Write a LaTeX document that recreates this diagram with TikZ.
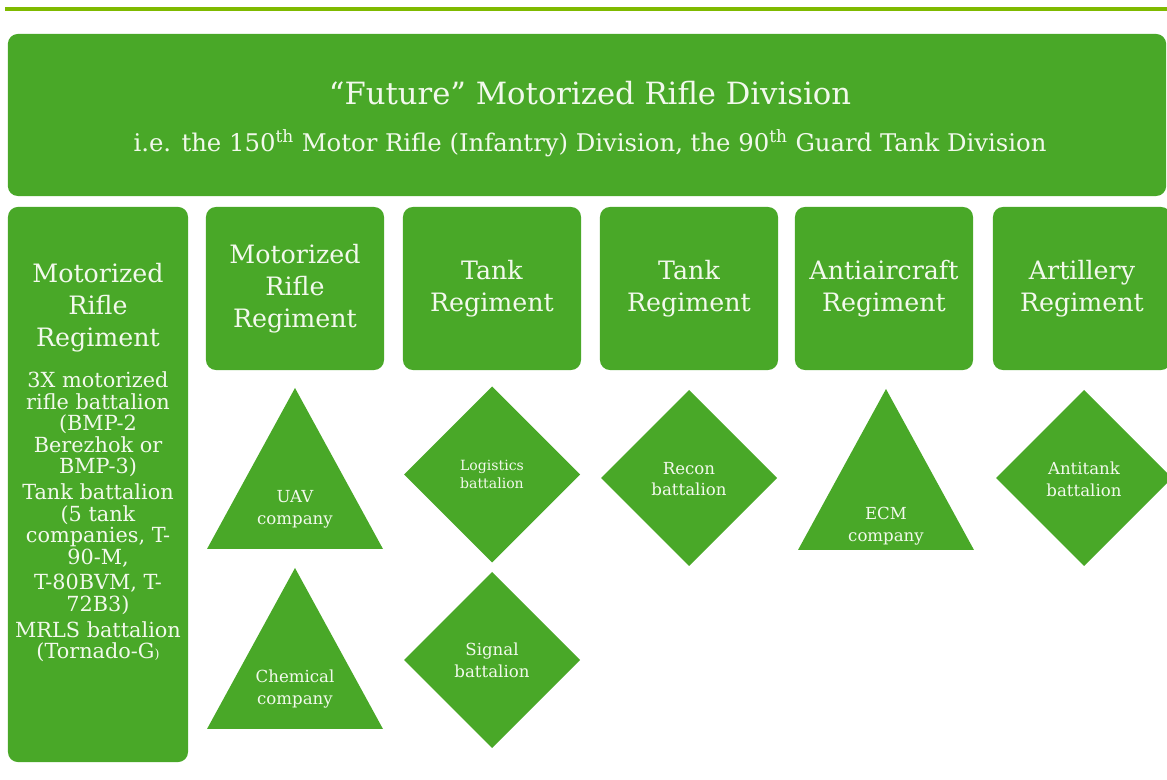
\documentclass[tikz,border=0pt]{standalone}
\usepackage{fontspec}
\setmainfont{DejaVu Serif}
\usetikzlibrary{positioning}

\begin{document}
\begin{tikzpicture}[x=0.025cm,y=-0.025cm,
  unit/.style={fill=armyGreen},
  regBox/.style={unit,rounded corners=0.25cm,minimum width=4.45cm,minimum height=4.075cm,inner sep=0pt,text=paleText,align=center,font=\fontsize{18}{22.7}\selectfont},
  listText/.style={text=paleText,align=center,font=\fontsize{14.8}{15.3}\selectfont},
  shapeLbl/.style={text=paleText,align=center,font=\fontsize{11.8}{15.4}\selectfont},
  smallLbl/.style={text=paleText,align=center,font=\fontsize{10}{12.8}\selectfont}]
\definecolor{armyGreen}{RGB}{73,168,40}
\definecolor{topLine}{RGB}{127,186,0}
\definecolor{paleText}{RGB}{242,249,236}
\useasboundingbox (0,0) rectangle (1167,780);
\draw[line width=0.1cm,color=topLine] (5,9.5) -- (1167,9.5);
\node[unit,rounded corners=0.25cm,minimum width=28.95cm,minimum height=4.05cm,inner sep=0pt] (div) at (587,115) {};
\node[text=paleText,font=\fontsize{21.8}{24}\selectfont] (divTitle) at (590,93) {“Future” Motorized Rifle Division};
\node[text=paleText,font=\fontsize{17.3}{20}\selectfont] (divSub) at (590,143) {i.e. the 150\textsuperscript{th} Motor Rifle (Infantry) Division, the 90\textsuperscript{th} Guard Tank Division};
\node[unit,rounded corners=0.25cm,minimum width=4.5cm,minimum height=13.875cm,inner sep=0pt] (mrr) at (98,484.5) {};
\node[text=paleText,align=center,font=\fontsize{18}{22.7}\selectfont] (mrrTitle) at (98,308) {Motorized\\Rifle\\Regiment};
\node[listText] (mrrList) at (98,517) {3X motorized\\rifle battalion\\(BMP-2\\Berezhok or\\BMP-3)\\[3pt]Tank battalion\\(5 tank\\companies, T-\\90-M,\\[3pt]T-80BVM, T-\\72B3)\\[3pt]MRLS battalion\\(Tornado-G{\fontsize{9}{9}\selectfont )}};
\node[regBox] (mrReg) at (295,288.5) {Motorized\\Rifle\\Regiment};
\node[regBox] (tankRegA) at (492,288.5) {Tank\\Regiment};
\node[regBox] (tankRegB) at (689,288.5) {Tank\\Regiment};
\node[regBox] (aaReg) at (884,288.5) {Antiaircraft\\Regiment};
\node[regBox] (artReg) at (1082,288.5) {Artillery\\Regiment};
\foreach \cx/\ty in {295/388,295/568,886/389}
  \fill[unit] (\cx,\ty) -- ++(88,161) -- ++(-176,0) -- cycle;
\foreach \cx/\cy in {492/474.5,492/660,689/478,1084/478}
  \fill[unit] (\cx,\cy) ++(0,-88) -- ++(88,88) -- ++(-88,88) -- ++(-88,-88) -- cycle;
\node[shapeLbl] (uav) at (295,509) {UAV\\company};
\node[shapeLbl] (chem) at (295,689) {Chemical\\company};
\node[smallLbl] (logi) at (492,474) {Logistics\\battalion};
\node[shapeLbl] (signal) at (492,660) {Signal\\battalion};
\node[shapeLbl] (recon) at (689,479) {Recon\\battalion};
\node[shapeLbl] (ecm) at (886,526) {ECM\\company};
\node[shapeLbl] (antitank) at (1084,479) {Antitank\\battalion};
\end{tikzpicture}
\end{document}
